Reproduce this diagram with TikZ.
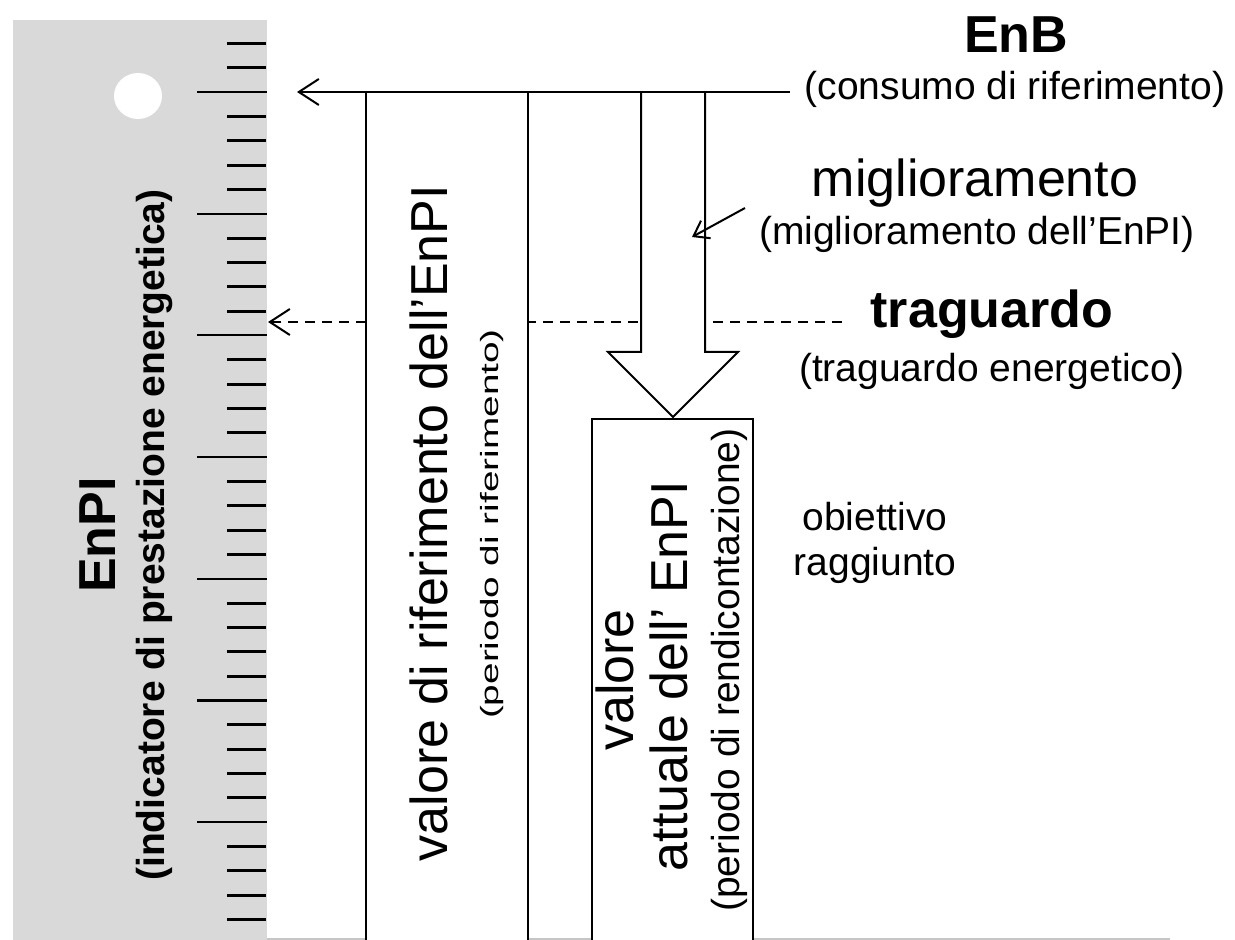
\documentclass[tikz,border=0pt]{standalone}
\usepackage{fontspec}
\setmainfont{Liberation Sans}
\usetikzlibrary{arrows.meta}
\definecolor{panelgray}{RGB}{217,217,217}
\begin{document}
\begin{tikzpicture}[x=0.5pt,y=-0.5pt,
  big/.style={font=\fontsize{26}{30}\selectfont},
  bigb/.style={font=\fontsize{26}{30}\selectfont\bfseries},
  small/.style={font=\fontsize{19.5}{23}\selectfont},
  smallb/.style={font=\fontsize{19.5}{23}\selectfont\bfseries},
  tiny/.style={font=\fontsize{12.5}{15}\selectfont},
  lbl/.style={inner sep=0pt, anchor=base},
  vlbl/.style={inner sep=0pt, anchor=base, rotate=90},
  thinline/.style={line width=1pt, line join=miter},
  barb/.style={-{Straight Barb[length=10pt,width=13pt,line width=1pt]}},
  smallbarb/.style={-{Straight Barb[length=7pt,width=10pt,line width=1pt]}},
  minortick/.style={line width=1.5pt},
  majortick/.style={line width=1.1pt}
]
\useasboundingbox (0,0) rectangle (1235,940);
% gray scale panel
\fill[panelgray] (13,20) rectangle (267,940);
\fill[white] (138,96) ellipse [x radius=24, y radius=23];
\foreach \k in {0,...,6} {
  \draw[majortick] (197,{92+121.7*\k}) -- (267,{92+121.7*\k});
}
\foreach \j in {-2,...,34} {
  \pgfmathtruncatemacro{\r}{mod(\j+10,5)}
  \ifnum\r=0\relax\else
    \draw[minortick] (227,{92+24.34*\j}) -- (266,{92+24.34*\j});
  \fi
}
% bottom line
\draw[gray!45, line width=1pt] (267,939) -- (1170,939);

% coordinates
\coordinate (enbL) at (297,92);
\coordinate (enbR) at (790,92);
\coordinate (tragL) at (268,322);
\coordinate (tragR) at (842,322);
\coordinate (smS) at (745,208);
\coordinate (smE) at (692,237);

% target dashed line
\draw[thinline, dashed, dash pattern=on 5pt off 3.5pt, barb] (tragR) -- (tragL);

% box 1 (reference value)
\fill[white] (366,92) rectangle (528,940);
\draw[thinline] (366,940) -- (366,92) -- (528,92) -- (528,940);
% improvement arrow
\draw[thinline, fill=white] (641,92) -- (641,352) -- (608,352) -- (673,417) -- (738,352) -- (705,352) -- (705,92);
% box 2 (actual value)
\fill[white] (592,419) rectangle (753,940);
\draw[thinline] (592,940) -- (592,419) -- (753,419) -- (753,940);
% EnB line
\draw[thinline, barb] (enbR) -- (enbL);
% small pointer arrow
\draw[thinline, smallbarb] (smS) -- (smE);

% right labels
\node[bigb,lbl] (enb) at (1016,53) {EnB};
\node[small,lbl] (enbsub) at (1015,100) {(consumo di riferimento)};
\node[big,lbl] (mig) at (975,197) {miglioramento};
\node[small,lbl] (migsub) at (977,245) {(miglioramento dell’EnPI)};
\node[bigb,lbl] (trag) at (992,328) {traguardo};
\node[small,lbl] (tragsub) at (992,382) {(traguardo energetico)};
\node[small,lbl] (obj1) at (875,530) {obiettivo};
\node[small,lbl] (obj2) at (875,575) {raggiunto};

% axis labels
\node[bigb,vlbl] (enpi) at (115,535) {EnPI};
\node[smallb,vlbl] (enpisub) at (164,535) {(indicatore di prestazione energetica)};

% box 1 labels
\node[big,vlbl] (ref) at (447,523) {valore di riferimento dell’EnPI};
\node[tiny,vlbl] (refsub) at (498,524) {\scalebox{1.55}[1]{(periodo di riferimento)}};

% box 2 labels
\node[big,vlbl] (act1) at (633,680) {valore};
\node[big,vlbl] (act2) at (687,676) {attuale dell’ EnPI};
\node[small,vlbl] (actsub) at (739,670) {(periodo di rendicontazione)};
\end{tikzpicture}
\end{document}
